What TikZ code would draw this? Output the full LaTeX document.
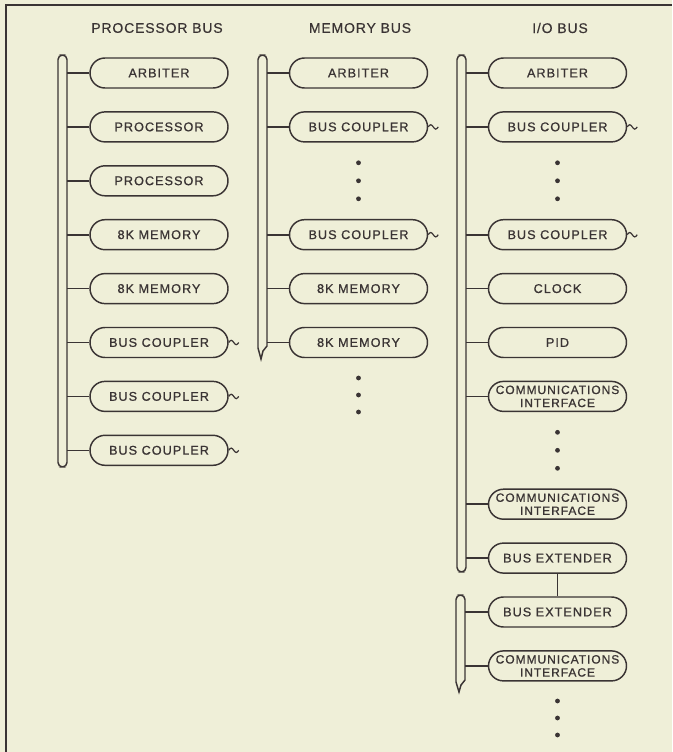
\documentclass[tikz,border=0pt]{standalone}
\usepackage{fontspec}
\setmainfont{Liberation Sans}
\newfontfamily\labelfont[LetterSpace=8,FakeBold=0.8]{Liberation Sans}
\newfontfamily\headfont[LetterSpace=6,FakeBold=0.4]{Liberation Sans}
\usetikzlibrary{shapes.misc}
\definecolor{paper}{RGB}{239,239,216}
\definecolor{ink}{RGB}{58,52,52}
\tikzset{
  unit/.style={draw=ink,line width=1.1pt,rounded rectangle,minimum width=103.5pt,
    minimum height=22.5pt,inner sep=0pt,text=ink,
    font=\labelfont\fontsize{9.5}{10.5}\selectfont},
  comm/.style={unit,align=center,font=\labelfont\fontsize{9}{9.8}\selectfont},
  wire/.style={draw=ink,line width=1.2pt},
  bus/.style={draw=ink,line width=1.1pt},
  head/.style={text=ink,font=\headfont\fontsize{10.5}{12}\selectfont},
}
% little line break mark after a bus coupler
\newcommand{\twiddle}[1]{\draw[wire,line width=0.9pt] (#1.east) sin ++(2.5,-2.2) cos ++(2.5,2.2) sin ++(2.5,2.2) cos ++(2.5,-2.2);}
\begin{document}
\begin{tikzpicture}[x=0.75pt,y=-0.75pt]
\fill[paper] (0,0) rectangle (672,752);
\useasboundingbox (0,0) rectangle (672,752);
\draw[ink,line width=1.3pt] (6,752) -- (6,5) -- (672,5);
% headings
\node[head] (hp) at (157,28) {PROCESSOR BUS};
\node[head] (hm) at (360,28) {MEMORY BUS};
\node[head] (hi) at (560,28) {I/O BUS};
% bus bars
\draw[bus,rounded corners=3.4pt] (58,55) rectangle (67,467);
\draw[bus] (258,348) [rounded corners=3.4pt] -- (258,55) -- (267,55) [sharp corners] -- (267,346) -- (263,351) -- (261,359) -- cycle;
\draw[bus,rounded corners=3.4pt] (457,55) rectangle (466,572);
\draw[bus] (456,682) [rounded corners=3.4pt] -- (456,595) -- (465,595) [sharp corners] -- (465,680) -- (461,685) -- (459,692) -- cycle;
\coordinate (pbus) at (67,0);
\coordinate (mbus) at (267,0);
\coordinate (ibus) at (466,0);
\coordinate (jbus) at (465,0);
% processor bus
\node[unit] (p0) at (159,73) {ARBITER};
\node[unit] (p1) at (159,126.9) {PROCESSOR};
\node[unit] (p2) at (159,180.8) {PROCESSOR};
\node[unit] (p3) at (159,234.7) {8K MEMORY};
\node[unit] (p4) at (159,288.6) {8K MEMORY};
\node[unit] (p5) at (159,342.5) {BUS COUPLER};
\node[unit] (p6) at (159,396.4) {BUS COUPLER};
\node[unit] (p7) at (159,450.3) {BUS COUPLER};
\draw[wire] (p0.west) -- (p0.west -| pbus);
\draw[wire] (p1.west) -- (p1.west -| pbus);
\draw[wire] (p2.west) -- (p2.west -| pbus);
\draw[wire] (p3.west) -- (p3.west -| pbus);
\draw[wire] (p4.west) -- (p4.west -| pbus);
\draw[wire] (p5.west) -- (p5.west -| pbus);
\draw[wire] (p6.west) -- (p6.west -| pbus);
\draw[wire] (p7.west) -- (p7.west -| pbus);
\twiddle{p5}
\twiddle{p6}
\twiddle{p7}
% memory bus
\node[unit] (m0) at (358.5,73) {ARBITER};
\node[unit] (m1) at (358.5,126.9) {BUS COUPLER};
\node[unit] (m3) at (358.5,234.7) {BUS COUPLER};
\node[unit] (m4) at (358.5,288.6) {8K MEMORY};
\node[unit] (m5) at (358.5,342.5) {8K MEMORY};
\draw[wire] (m0.west) -- (m0.west -| mbus);
\draw[wire] (m1.west) -- (m1.west -| mbus);
\draw[wire] (m3.west) -- (m3.west -| mbus);
\draw[wire] (m4.west) -- (m4.west -| mbus);
\draw[wire] (m5.west) -- (m5.west -| mbus);
\twiddle{m1}
\twiddle{m3}
\fill[ink] (358.5,162.8) circle (2.4);
\fill[ink] (358.5,180.8) circle (2.4);
\fill[ink] (358.5,198.8) circle (2.4);
\fill[ink] (358.5,378) circle (2.4);
\fill[ink] (358.5,395) circle (2.4);
\fill[ink] (358.5,412) circle (2.4);
% i/o bus
\node[unit] (i0) at (557.5,73) {ARBITER};
\node[unit] (i1) at (557.5,126.9) {BUS COUPLER};
\node[unit] (i3) at (557.5,234.7) {BUS COUPLER};
\node[unit] (i4) at (557.5,288.6) {CLOCK};
\node[unit] (i5) at (557.5,342.5) {PID};
\node[comm] (i6) at (557.5,396.4) {COMMUNICATIONS\\INTERFACE};
\node[comm] (i8) at (557.5,504.2) {COMMUNICATIONS\\INTERFACE};
\node[unit] (i9) at (557.5,558.1) {BUS EXTENDER};
\node[unit] (i10) at (557.5,612) {BUS EXTENDER};
\node[comm] (i11) at (557.5,665.9) {COMMUNICATIONS\\INTERFACE};
\draw[wire] (i0.west) -- (i0.west -| ibus);
\draw[wire] (i1.west) -- (i1.west -| ibus);
\draw[wire] (i3.west) -- (i3.west -| ibus);
\draw[wire] (i4.west) -- (i4.west -| ibus);
\draw[wire] (i5.west) -- (i5.west -| ibus);
\draw[wire] (i6.west) -- (i6.west -| ibus);
\draw[wire] (i8.west) -- (i8.west -| ibus);
\draw[wire] (i9.west) -- (i9.west -| ibus);
\draw[wire] (i10.west) -- (i10.west -| jbus);
\draw[wire] (i11.west) -- (i11.west -| jbus);
\draw[wire] (i9.south) -- (i10.north);
\twiddle{i1}
\twiddle{i3}
\fill[ink] (557.5,162.8) circle (2.4);
\fill[ink] (557.5,180.8) circle (2.4);
\fill[ink] (557.5,198.8) circle (2.4);
\fill[ink] (557.5,432.3) circle (2.4);
\fill[ink] (557.5,450.3) circle (2.4);
\fill[ink] (557.5,468.3) circle (2.4);
\fill[ink] (557.5,701) circle (2.4);
\fill[ink] (557.5,718) circle (2.4);
\fill[ink] (557.5,735) circle (2.4);
\end{tikzpicture}
\end{document}
